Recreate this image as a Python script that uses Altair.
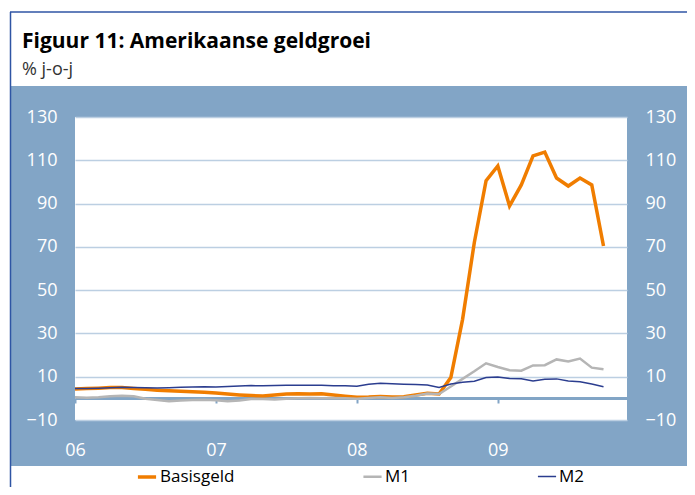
import altair as alt
import pandas as pd

# ---- data (monthly, Jan 2006 .. Oct 2009), % y-o-y ----
series_names = ["Basisgeld", "M1", "M2"]
series_colors = ["#f07d00", "#b5b5b5", "#2b3d8f"]
series_widths = [3.5, 1.5, 2.2]

basisgeld = [4.3, 4.5, 4.7, 5.0, 5.0, 4.6, 4.2, 3.8, 3.5, 3.3, 3.1, 2.8,
             2.5, 2.0, 1.6, 1.3, 1.1, 1.5, 2.0, 2.1, 2.0, 2.1, 1.6, 1.0,
             0.5, 0.6, 0.9, 0.6, 0.8, 1.6, 2.4, 2.0, 9.6, 36.5, 72.0, 100.6,
             107.4, 88.9, 98.6, 112.0, 113.8, 101.8, 98.1, 101.8, 98.6, 70.4]
m1 = [0.5, 0.3, 0.5, 1.0, 1.2, 1.0, -0.2, -0.8, -1.3, -1.0, -0.8, -0.7,
      -0.9, -1.3, -1.0, -0.3, -0.3, -0.5, -0.2, 0.0, 0.2, 0.0, 0.2, 0.0,
      -0.2, 0.2, 0.5, 0.2, 0.5, 1.2, 2.2, 2.0, 5.5, 9.0, 12.5, 16.2,
      14.5, 13.0, 12.8, 15.2, 15.3, 18.0, 17.0, 18.4, 14.2, 13.5]
m2 = [4.5, 4.6, 4.7, 4.9, 5.1, 5.0, 4.9, 4.8, 4.9, 5.1, 5.3, 5.4,
      5.3, 5.5, 5.7, 5.9, 5.8, 5.9, 6.1, 6.1, 6.0, 6.0, 5.8, 5.8,
      5.6, 6.5, 7.0, 6.7, 6.5, 6.4, 6.2, 5.0, 6.6, 7.4, 7.9, 9.6,
      9.9, 9.2, 9.1, 8.0, 8.8, 9.0, 8.0, 7.7, 6.6, 5.4]

year_labels = ["06", "07", "08", "09"]
year_ticks = [0, 12, 24, 36]          # month index of January of each year
y_ticks = [-10, 10, 30, 50, 70, 90, 110, 130]
title_text = "Figuur 11: Amerikaanse geldgroei"
subtitle_text = "% j-o-j"

rows = []
for name, vals in zip(series_names, [basisgeld, m1, m2]):
    for i, v in enumerate(vals):
        rows.append({"month": i, "value": v, "series": name})
df = pd.DataFrame(rows)

BLUE = "#82a5c6"
FRAME = "#2f55a4"
FONT = "Open Sans"

label_expr = "[" + ",".join("'%s'" % s for s in year_labels) + "][round(datum.value/12)]"

xscale = alt.Scale(domain=[0, 47], nice=False, zero=False)
yscale = alt.Scale(domain=[-10, 130], nice=False, zero=False)

x_enc = alt.X("month:Q", scale=xscale,
              axis=alt.Axis(values=year_ticks, labelExpr=label_expr, offset=-22,
                            domainColor=BLUE, domainWidth=3, tickColor=BLUE,
                            tickSize=5, tickWidth=2, labelColor="white",
                            labelFontSize=18, labelFont=FONT, labelPadding=38,
                            labelFlush=False, labelOverlap=False, grid=False, title=None))

lines = alt.Chart(df).mark_line().encode(
    x=x_enc,
    y=alt.Y("value:Q", scale=yscale,
            axis=alt.Axis(orient="left", values=y_ticks, grid=True,
                          gridColor="#bccfe2", gridWidth=1.5, domain=False,
                          ticks=False, labelColor="white", labelFontSize=18,
                          labelFont=FONT, labelPadding=18, title=None)),
    color=alt.Color("series:N", scale=alt.Scale(domain=series_names, range=series_colors),
                    legend=alt.Legend(title=None, orient="none", legendX=61, legendY=349,
                                      direction="horizontal", symbolType="stroke",
                                      symbolSize=330, symbolStrokeWidth=3,
                                      labelFontSize=17, labelFont=FONT,
                                      labelColor="black", columnPadding=123,
                                      labelOffset=2)),
    strokeWidth=alt.StrokeWidth("series:N",
                                scale=alt.Scale(domain=series_names, range=series_widths),
                                legend=None),
)

right_axis = alt.Chart(df).mark_line(opacity=0).encode(
    x=x_enc,
    y=alt.Y("value:Q", scale=yscale,
            axis=alt.Axis(orient="right", values=y_ticks, grid=False, domain=False,
                          ticks=False, labelColor="white", labelFontSize=18,
                          labelFont=FONT, labelPadding=18, title=None)),
    detail="series:N",
)

one = pd.DataFrame({"a": [0]})
white_top = alt.Chart(one).mark_rect(color="white").encode(
    x=alt.value(-70), x2=alt.value(700), y=alt.value(-120), y2=alt.value(-31))
white_bottom = alt.Chart(one).mark_rect(color="white").encode(
    x=alt.value(-70), x2=alt.value(700), y=alt.value(349), y2=alt.value(400))
white_left = alt.Chart(one).mark_rect(color="white").encode(
    x=alt.value(-70), x2=alt.value(-64), y=alt.value(-120), y2=alt.value(400))
frame_v = alt.Chart(one).mark_rule(color=FRAME, strokeWidth=1.5).encode(
    x=alt.value(-64.5), y=alt.value(-105), y2=alt.value(400))
frame_h = alt.Chart(one).mark_rule(color=FRAME, strokeWidth=1.5).encode(
    x=alt.value(-65), x2=alt.value(700), y=alt.value(-105))
title = alt.Chart(one).mark_text(text=title_text, align="left", baseline="alphabetic",
                                 font=FONT, fontSize=21, fontWeight="bold",
                                 color="black").encode(
    x=alt.value(-53), y=alt.value(-69))
subtitle = alt.Chart(one).mark_text(text=subtitle_text, align="left", baseline="alphabetic",
                                    font=FONT, fontSize=18, color="#333333").encode(
    x=alt.value(-53), y=alt.value(-42))

chart = alt.layer(
    white_top, white_bottom, white_left, frame_v, frame_h, title, subtitle,
    lines, right_axis
).resolve_scale(y="independent").properties(
    width=552, height=303,
    autosize=alt.AutoSizeParams(type="none"),
    padding={"left": 67, "top": 109, "right": 60, "bottom": 67},
    background=BLUE,
).configure_view(fill="white", stroke=None)

chart.save("out.html", embed_options={"renderer": "svg", "actions": False})
